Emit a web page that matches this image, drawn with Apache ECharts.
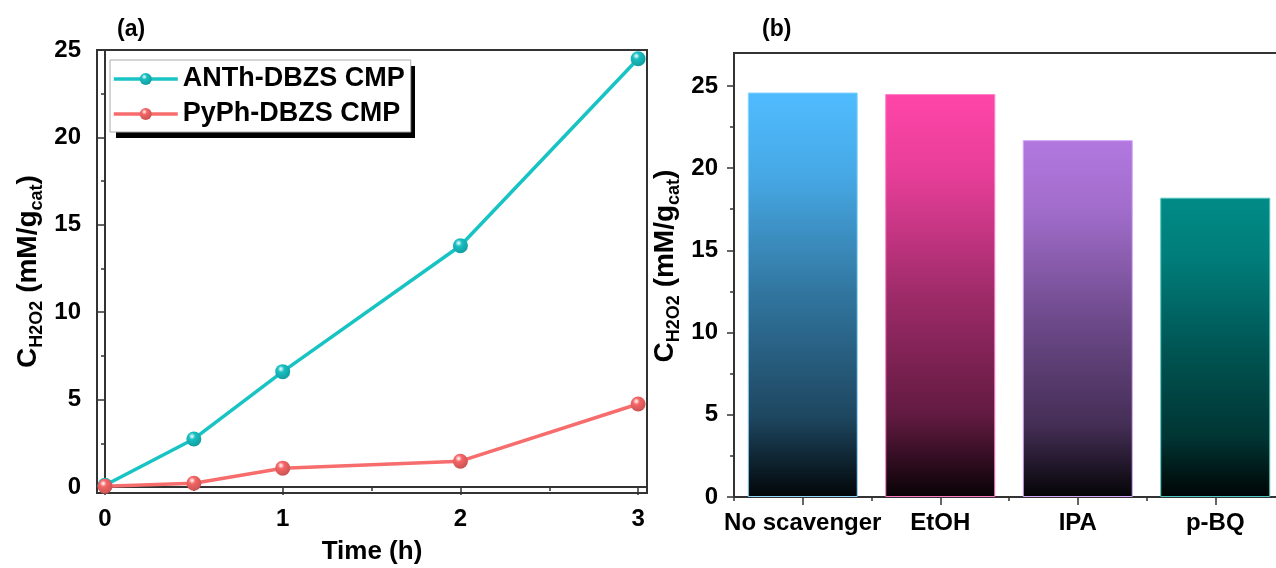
<!DOCTYPE html>
<html>
<head>
<meta charset="utf-8">
<script src="https://cdn.jsdelivr.net/npm/echarts@6/dist/echarts.min.js"></script>
<style>
  html, body { margin: 0; padding: 0; background: #fff; }
  #main { width: 1276px; height: 568px; }
</style>
</head>
<body>
<div id="main"></div>
<script>
// (a) time course
var times = [0, 0.5, 1, 2, 3]
var anthValues = [0.1, 2.75, 6.6, 13.8, 24.5]
var pyphValues = [0.05, 0.22, 1.08, 1.48, 4.75]
var timeTicks = [0, 1, 2, 3]
var timeMinorTicks = [0.5, 1.5, 2.5]
var concTicksA = [0, 5, 10, 15, 20, 25]
var concMinorTicksA = [2.5, 7.5, 12.5, 17.5, 22.5]

// (b) scavenger test
var scavengers = ['No scavenger', 'EtOH', 'IPA', 'p-BQ']
var scavengerValues = [24.6, 24.5, 21.7, 18.2]
var concTicksB = [0, 5, 10, 15, 20, 25]
var concMinorTicksB = [2.5, 7.5, 12.5, 17.5, 22.5]

var font = 'Liberation Sans, Arial, sans-serif'
var axisColor = '#333'

function shade(hex, f) {
  var n = parseInt(hex.slice(1), 16)
  var r = Math.round(((n >> 16) & 255) * f)
  var g = Math.round(((n >> 8) & 255) * f)
  var b = Math.round((n & 255) * f)
  return 'rgb(' + r + ',' + g + ',' + b + ')'
}

// bar fill: full colour at top, fading to black at bottom
function fade(hex) {
  return {
    type: 'linear', x: 0, y: 0, x2: 0, y2: 1,
    colorStops: [
      { offset: 0, color: hex },
      { offset: 0.2, color: shade(hex, 0.9) },
      { offset: 0.5, color: shade(hex, 0.62) },
      { offset: 0.8, color: shade(hex, 0.38) },
      { offset: 1, color: shade(hex, 0.03) }
    ]
  }
}

// shiny ball markers
function ball(hex) {
  return {
    type: 'radial', x: 0.38, y: 0.32, r: 0.75,
    colorStops: [
      { offset: 0, color: '#ffffff' },
      { offset: 0.3, color: hex },
      { offset: 1, color: shade(hex, 0.8) }
    ]
  }
}

var barColors = ['#4fbcff', '#ff45a9', '#b278e0', '#008b87']
var barBorders = ['#8fd6ff', '#ff7ac4', '#d4a6ff', '#4fc7c3']

var nameRich = {
  m: { fontSize: 28, fontWeight: 'bold', fontFamily: font, color: '#000', lineHeight: 32, padding: [0, 0, 8, 0], verticalAlign: 'top' },
  s: { fontSize: 18, fontWeight: 'bold', fontFamily: font, color: '#000', lineHeight: 18, verticalAlign: 'bottom' }
}
var yName = '{m|C}{s|H2O2}{m| (mM/g}{s|cat}{m|)}'

var tickLabel = { fontSize: 24, fontWeight: 'bold', fontFamily: font, color: '#000' }

function minorAxis(gridIndex, min, max, values, isY) {
  return {
    gridIndex: gridIndex, type: 'value', min: min, max: max,
    position: isY ? 'left' : 'bottom',
    axisLine: { show: false },
    axisTick: { show: true, length: 4, customValues: values, lineStyle: { color: axisColor, width: 1.5 } },
    axisLabel: { show: false },
    splitLine: { show: false }
  }
}

var myChart = echarts.init(document.getElementById('main'))

var option = {
  backgroundColor: '#fff',
  animation: false,
  title: [
    { text: '(a)', left: 112, top: 13, textStyle: { fontSize: 23, fontWeight: 'bold', fontFamily: font, color: '#000' } },
    { text: '(b)', left: 757, top: 13, textStyle: { fontSize: 23, fontWeight: 'bold', fontFamily: font, color: '#000' } }
  ],
  // black drop shadow behind the legend box
  graphic: [
    { type: 'rect', shape: { x: 116, y: 66, width: 299, height: 72 }, style: { fill: '#000' }, z: 0 }
  ],
  legend: {
    left: 110, top: 60, orient: 'vertical',
    data: ['ANTh-DBZS CMP', 'PyPh-DBZS CMP'],
    itemWidth: 64, itemHeight: 15, itemGap: 7,
    padding: [5, 6, 4, 2],
    backgroundColor: '#fff', borderColor: '#aaa', borderWidth: 1,
    lineStyle: { width: 3.5 },
    textStyle: { fontSize: 27, fontWeight: 'bold', fontFamily: font, color: '#000', lineHeight: 28 },
    z: 5
  },
  grid: [
    { left: 97, top: 50, width: 550, height: 443, show: true, borderColor: axisColor, borderWidth: 2, backgroundColor: 'transparent', outerBoundsMode: 'none' },
    { left: 734, top: 53, width: 550, height: 444, show: true, borderColor: axisColor, borderWidth: 2, backgroundColor: 'transparent', outerBoundsMode: 'none' }
  ],
  xAxis: [
    {
      gridIndex: 0, type: 'value', min: -0.045, max: 3.05, position: 'bottom',
      name: 'Time (h)', nameLocation: 'middle', nameGap: 46,
      nameTextStyle: { fontSize: 26, fontWeight: 'bold', fontFamily: font, color: '#000' },
      axisLine: { show: true, lineStyle: { color: axisColor, width: 2 } },
      axisTick: { show: true, length: 8, customValues: timeTicks, lineStyle: { color: axisColor, width: 1.5 } },
      axisLabel: Object.assign({ customValues: timeTicks, margin: 14 }, tickLabel),
      splitLine: { show: false }
    },
    minorAxis(0, -0.045, 3.05, timeMinorTicks, false),
    {
      gridIndex: 1, type: 'category', data: scavengers, position: 'bottom',
      axisLine: { show: true, lineStyle: { color: axisColor, width: 2 } },
      axisTick: { show: true, alignWithLabel: true, length: 8, lineStyle: { color: axisColor, width: 1.5 } },
      axisLabel: Object.assign({ margin: 14, interval: 0 }, tickLabel),
      splitLine: { show: false }
    },
    {
      gridIndex: 1, type: 'category', data: scavengers, position: 'bottom',
      axisLine: { show: false },
      axisTick: { show: true, length: 4, lineStyle: { color: axisColor, width: 1.5 } },
      axisLabel: { show: false },
      splitLine: { show: false }
    }
  ],
  yAxis: [
    {
      gridIndex: 0, type: 'value', min: -0.34, max: 25, position: 'left',
      name: yName, nameLocation: 'middle', nameRotate: 90, nameGap: 48,
      nameTextStyle: { rich: nameRich },
      axisLine: { show: true, lineStyle: { color: axisColor, width: 2 } },
      axisTick: { show: true, length: 8, customValues: concTicksA, lineStyle: { color: axisColor, width: 1.5 } },
      axisLabel: Object.assign({ customValues: concTicksA, margin: 16 }, tickLabel),
      splitLine: { show: false }
    },
    minorAxis(0, -0.34, 25, concMinorTicksA, true),
    {
      gridIndex: 1, type: 'value', min: 0, max: 27, position: 'left',
      name: yName, nameLocation: 'middle', nameRotate: 90, nameGap: 50,
      nameTextStyle: { rich: nameRich, padding: [0, 0, 0, 18] },
      axisLine: { show: true, lineStyle: { color: axisColor, width: 2 } },
      axisTick: { show: true, length: 7, customValues: concTicksB, lineStyle: { color: axisColor, width: 1.5 } },
      axisLabel: Object.assign({ customValues: concTicksB, margin: 16 }, tickLabel),
      splitLine: { show: false }
    },
    minorAxis(1, 0, 27, concMinorTicksB, true)
  ],
  series: [
    {
      name: 'ANTh-DBZS CMP', type: 'line', xAxisIndex: 0, yAxisIndex: 0,
      data: times.map(function (t, i) { return [t, anthValues[i]] }),
      symbol: 'circle', symbolSize: 15,
      lineStyle: { color: '#18c3c3', width: 3.5 },
      itemStyle: { color: ball('#17bfc2') },
      z: 3
    },
    {
      name: 'PyPh-DBZS CMP', type: 'line', xAxisIndex: 0, yAxisIndex: 0,
      data: times.map(function (t, i) { return [t, pyphValues[i]] }),
      symbol: 'circle', symbolSize: 15,
      lineStyle: { color: '#f76c6c', width: 3.5 },
      itemStyle: { color: ball('#f56565') },
      z: 4
    },
    {
      name: 'scavenger', type: 'bar', xAxisIndex: 2, yAxisIndex: 2,
      barWidth: '80%',
      data: scavengerValues.map(function (v, i) {
        return { value: v, itemStyle: { color: fade(barColors[i]), borderColor: barBorders[i], borderWidth: 1 } }
      })
    }
  ]
}

myChart.setOption(option)
</script>
</body>
</html>
